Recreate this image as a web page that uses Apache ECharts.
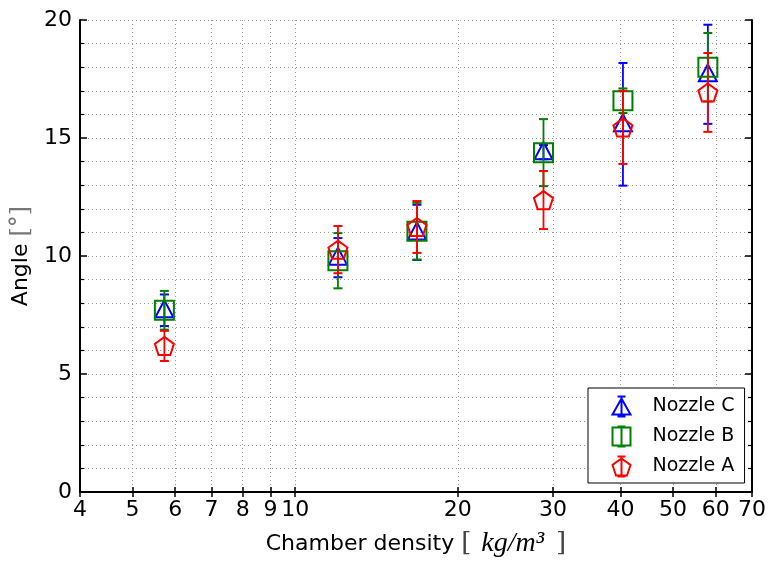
<!DOCTYPE html>
<html>
<head>
<meta charset="utf-8">
<script src="https://cdn.jsdelivr.net/npm/echarts@6/dist/echarts.min.js"></script>
<style>
  html, body { margin: 0; padding: 0; background: #fff; }
  #chart { width: 773px; height: 567px; }
</style>
</head>
<body>
<div id="chart"></div>
<script>
// 数据：横轴为密度（对数轴），纵轴为角度
const densities = [5.73, 12.0, 16.8, 28.8, 40.4, 58.0];

const angleC = [7.7, 9.93, 11.0, 14.4, 15.58, 17.7];
const errC   = [0.67, 0.83, 1.17, 0.3, 2.6, 2.1];

const angleB = [7.7, 9.8, 11.05, 14.38, 16.58, 18.0];
const errB   = [0.82, 1.17, 1.2, 1.42, 0.52, 1.45];

const angleA = [6.19, 10.27, 11.23, 12.37, 15.45, 16.93];
const errA   = [0.64, 1.0, 1.1, 1.23, 1.55, 1.67];

// 刻度
const xTicks = [4, 5, 6, 7, 8, 9, 10, 20, 30, 40, 50, 60, 70];

const font = '"DejaVu Sans", sans-serif';
const gridLine = { color: '#999', width: 1, type: [1, 3] };

// 标记形状
function markerShape (kind, c, color) {
  const st = { fill: 'none', stroke: color, lineWidth: 2 };
  if (kind === 'triangle') {
    return { type: 'polygon', shape: { points: [[c[0], c[1] - 10], [c[0] - 9, c[1] + 7], [c[0] + 9, c[1] + 7]] }, style: st };
  }
  if (kind === 'square') {
    return { type: 'rect', shape: { x: c[0] - 9.5, y: c[1] - 9.5, width: 19, height: 19 }, style: st };
  }
  const pts = [];
  for (let k = 0; k < 5; k++) {
    const a = -Math.PI / 2 + k * 2 * Math.PI / 5;
    pts.push([c[0] + 10 * Math.cos(a), c[1] + 1 + 10 * Math.sin(a)]);
  }
  return { type: 'polygon', shape: { points: pts }, style: st };
}

function errSeries (name, xs, ys, es, color, kind) {
  return {
    name: name,
    type: 'custom',
    data: xs.map((x, i) => [x, ys[i], es[i]]),
    itemStyle: { color: color },
    renderItem: function (params, api) {
      const x = api.value(0), y = api.value(1), e = api.value(2);
      const top = api.coord([x, y + e]);
      const bot = api.coord([x, y - e]);
      const c = api.coord([x, y]);
      const ls = { stroke: color, lineWidth: 1.8 };
      return {
        type: 'group',
        children: [
          { type: 'line', shape: { x1: top[0], y1: top[1], x2: bot[0], y2: bot[1] }, style: ls },
          { type: 'line', shape: { x1: top[0] - 4.5, y1: top[1], x2: top[0] + 4.5, y2: top[1] }, style: { stroke: color, lineWidth: 2 } },
          { type: 'line', shape: { x1: bot[0] - 4.5, y1: bot[1], x2: bot[0] + 4.5, y2: bot[1] }, style: { stroke: color, lineWidth: 2 } },
          markerShape(kind, c, color)
        ]
      };
    }
  };
}

// 图例图标（带误差棒）
const iconC = 'path://M10 0L10 20M6 0L14 0M6 20L14 20M10 2L1 18L19 18Z';
const iconB = 'path://M10 0L10 20M6 0L14 0M6 20L14 20M1 1L19 1L19 19L1 19Z';
const iconA = 'path://M10 0L10 20M6 0L14 0M6 20L14 20M10 2L19 8.5L15.5 19L4.5 19L1 8.5Z';

const option = {
  backgroundColor: '#fff',
  animation: false,
  grid: { left: 80, right: 21, top: 20, bottom: 75 },
  legend: {
    orient: 'vertical',
    left: 588,
    top: 388,
    padding: [6, 10, 4, 22],
    itemGap: 5,
    itemWidth: 20,
    itemHeight: 20,
    borderColor: '#000',
    borderWidth: 1,
    backgroundColor: '#fff',
    textStyle: { fontFamily: font, fontSize: 19, lineHeight: 20, color: '#000', padding: [0, 0, 0, 16] },
    data: [
      { name: 'Nozzle C', icon: iconC, itemStyle: { color: 'none', borderColor: 'blue', borderWidth: 2 } },
      { name: 'Nozzle B', icon: iconB, itemStyle: { color: 'none', borderColor: 'green', borderWidth: 2 } },
      { name: 'Nozzle A', icon: iconA, itemStyle: { color: 'none', borderColor: 'red', borderWidth: 2 } }
    ]
  },
  xAxis: [
    {
      type: 'log',
      logBase: 10,
      min: 4,
      max: 70,
      name: '{a|Chamber density }{b|[}{c|kg/m³}{b|]}',
      nameLocation: 'middle',
      nameGap: 38,
      nameTextStyle: {
        rich: {
          a: { fontFamily: font, fontSize: 22, color: '#000' },
          b: { fontFamily: '"DejaVu Serif", serif', fontSize: 26, color: '#444' },
          c: { fontFamily: '"Liberation Serif", serif', fontStyle: 'italic', fontSize: 28, color: '#000', padding: [0, 12, 0, 10] }
        }
      },
      axisLine: { show: true, lineStyle: { color: '#000', width: 2 } },
      axisTick: { show: true, inside: true, length: 5, customValues: xTicks, lineStyle: { color: '#000', width: 1.5 } },
      axisLabel: { customValues: xTicks, fontFamily: font, fontSize: 22, color: '#000', margin: 7, hideOverlap: false },
      splitLine: { show: true, customValues: xTicks, lineStyle: gridLine }
    },
    {
      type: 'log',
      logBase: 10,
      min: 4,
      max: 70,
      position: 'top',
      axisLine: { show: true, lineStyle: { color: '#000', width: 2 } },
      axisTick: { show: true, inside: true, length: 5, customValues: xTicks, lineStyle: { color: '#000', width: 1.5 } },
      axisLabel: { show: false },
      splitLine: { show: false }
    }
  ],
  yAxis: [
    {
      type: 'value',
      min: 0,
      max: 20,
      interval: 5,
      name: '{a|Angle }{b|[°]}',
      nameLocation: 'middle',
      nameGap: 34,
      nameTextStyle: {
        rich: {
          a: { fontFamily: font, fontSize: 22, color: '#000' },
          b: { fontFamily: '"DejaVu Serif", serif', fontSize: 24, color: '#777' }
        }
      },
      axisLine: { show: true, lineStyle: { color: '#000', width: 2 } },
      axisTick: { show: true, inside: true, length: 7, lineStyle: { color: '#000', width: 1.5 } },
      minorTick: { show: true, splitNumber: 5, length: 4, lineStyle: { color: '#000', width: 1.2 } },
      axisLabel: { fontFamily: font, fontSize: 22, color: '#000', margin: 8 },
      splitLine: { show: true, lineStyle: gridLine },
      minorSplitLine: { show: true, lineStyle: gridLine }
    },
    {
      type: 'value',
      min: 0,
      max: 20,
      interval: 5,
      position: 'right',
      axisLine: { show: true, lineStyle: { color: '#000', width: 2 } },
      axisTick: { show: true, inside: true, length: 7, lineStyle: { color: '#000', width: 1.5 } },
      minorTick: { show: true, splitNumber: 5, length: 4, lineStyle: { color: '#000', width: 1.2 } },
      axisLabel: { show: false },
      splitLine: { show: false }
    }
  ],
  series: [
    errSeries('Nozzle C', densities, angleC, errC, 'blue', 'triangle'),
    errSeries('Nozzle B', densities, angleB, errB, 'green', 'square'),
    errSeries('Nozzle A', densities, angleA, errA, 'red', 'pentagon')
  ]
};

const myChart = echarts.init(document.getElementById('chart'));
myChart.setOption(option);
</script>
</body>
</html>
